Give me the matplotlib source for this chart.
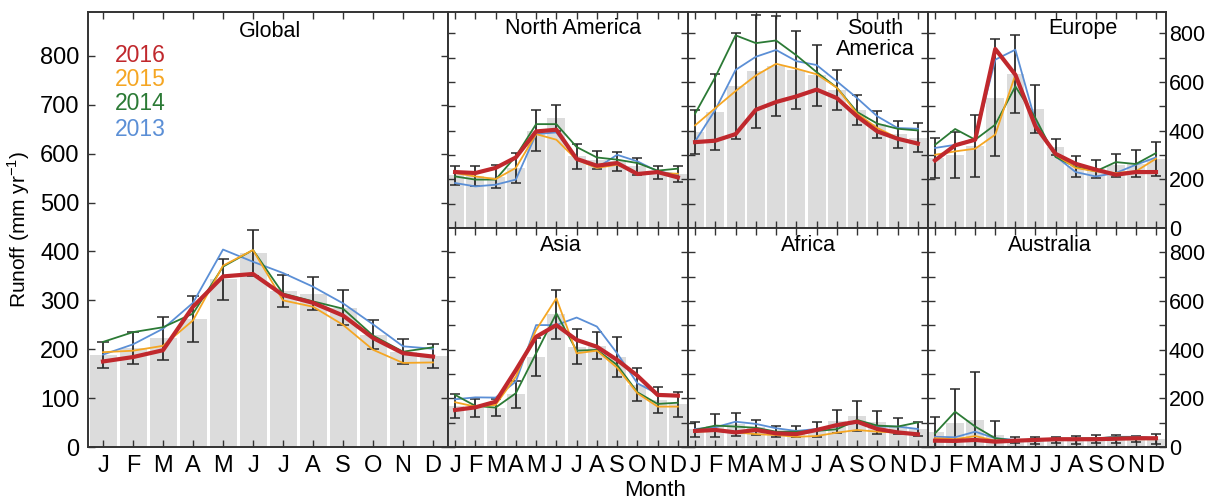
import numpy as np
import matplotlib
matplotlib.use("Agg")
import matplotlib.pyplot as plt

plt.rcParams['font.family'] = ['Liberation Sans', 'DejaVu Sans']
plt.rcParams['mathtext.fontset'] = 'custom'
plt.rcParams['mathtext.rm'] = 'Liberation Sans'

months = ['J', 'F', 'M', 'A', 'M', 'J', 'J', 'A', 'S', 'O', 'N', 'D']
years = ['2016', '2015', '2014', '2013']
year_colors = ['#c0282d', '#f5a623', '#2b7a35', '#5b8fd6']
year_widths = [3.0, 1.3, 1.3, 1.3]

# Global
glob_clim = [188, 202, 222, 262, 343, 397, 319, 314, 285, 230, 195, 186]
glob_err = [27, 33, 44, 47, 42, 48, 33, 33, 36, 29, 25, 24]
glob_2016 = [175, 184, 198, 287, 349, 354, 311, 295, 269, 223, 192, 185]
glob_2015 = [194, 197, 207, 259, 371, 403, 300, 287, 250, 199, 172, 173]
glob_2014 = [215, 235, 245, 273, 369, 403, 314, 298, 283, 228, 195, 204]
glob_2013 = [189, 210, 242, 295, 404, 379, 356, 328, 294, 251, 206, 201]

# North America
na_clim = [216, 212, 211, 247, 400, 452, 295, 280, 274, 253, 227, 222]
na_err = [38, 41, 46, 62, 85, 55, 51, 36, 38, 34, 26, 34]
na_2016 = [230, 226, 247, 290, 397, 404, 284, 256, 267, 222, 230, 208]
na_2015 = [226, 212, 201, 247, 386, 363, 281, 247, 260, 226, 226, 223]
na_2014 = [212, 199, 199, 295, 427, 427, 333, 290, 281, 267, 236, 244]
na_2013 = [185, 171, 178, 199, 386, 393, 284, 247, 301, 274, 233, 219]

# South America
sa_clim = [394, 478, 583, 644, 666, 648, 627, 568, 486, 426, 385, 371]
sa_err = [90, 156, 217, 233, 204, 160, 124, 82, 62, 56, 56, 60]
sa_2016 = [353, 359, 386, 486, 518, 541, 569, 534, 459, 397, 367, 347]
sa_2015 = [422, 493, 563, 627, 675, 655, 632, 577, 470, 411, 370, 342]
sa_2014 = [470, 621, 792, 760, 771, 710, 641, 577, 477, 429, 408, 401]
sa_2013 = [356, 486, 650, 704, 732, 686, 670, 603, 534, 459, 411, 408]

# Europe
eu_clim = [288, 301, 337, 536, 632, 488, 334, 253, 243, 257, 265, 282]
eu_err = [82, 94, 126, 241, 160, 98, 33, 44, 38, 49, 57, 70]
eu_2016 = [278, 340, 363, 736, 630, 418, 305, 264, 240, 219, 230, 230]
eu_2015 = [301, 315, 326, 384, 630, 425, 301, 247, 233, 226, 233, 285]
eu_2014 = [342, 407, 363, 425, 582, 452, 292, 251, 233, 271, 263, 308]
eu_2013 = [329, 342, 367, 692, 733, 438, 295, 230, 212, 226, 260, 290]

# Asia
as_clim = [169, 159, 162, 216, 371, 545, 413, 417, 371, 256, 193, 175]
as_err = [48, 37, 34, 57, 79, 100, 73, 55, 82, 67, 55, 53]
as_2016 = [152, 163, 186, 316, 453, 501, 440, 412, 358, 293, 214, 211]
as_2015 = [184, 166, 173, 289, 481, 611, 385, 396, 326, 221, 166, 166]
as_2014 = [214, 169, 162, 221, 385, 549, 396, 399, 337, 225, 177, 182]
as_2013 = [196, 204, 203, 269, 501, 501, 532, 495, 385, 262, 218, 211]

# Africa
af_clim = [72, 87, 94, 81, 65, 63, 73, 105, 127, 101, 86, 74]
af_err = [32, 47, 47, 32, 23, 23, 31, 49, 60, 48, 32, 27]
af_2016 = [66, 70, 60, 70, 56, 53, 70, 90, 104, 74, 60, 52]
af_2015 = [63, 66, 60, 53, 49, 42, 45, 59, 70, 63, 59, 53]
af_2014 = [70, 88, 84, 79, 63, 63, 66, 73, 111, 88, 84, 101]
af_2013 = [74, 81, 104, 95, 77, 66, 74, 84, 101, 84, 84, 74]

# Australia
au_clim = [60, 97, 111, 49, 29, 26, 29, 29, 32, 33, 32, 33]
au_err = [65, 141, 199, 59, 13, 14, 11, 16, 17, 16, 13, 19]
au_2016 = [26, 25, 29, 22, 26, 29, 32, 32, 32, 34, 36, 36]
au_2015 = [36, 32, 45, 26, 26, 29, 32, 32, 29, 32, 32, 32]
au_2014 = [56, 145, 84, 36, 26, 32, 34, 34, 36, 40, 40, 36]
au_2013 = [42, 40, 63, 36, 29, 29, 32, 34, 34, 42, 42, 36]

W, H = 1207, 500
fig = plt.figure(figsize=(W / 100, H / 100), dpi=100)


def box(x0, y0, x1, y1):
    return [x0 / W, (H - y1) / H, (x1 - x0) / W, (y1 - y0) / H]


def draw_panel(ax, clim, err, series, bar_width, cap):
    x = np.arange(12)
    ax.bar(x, clim, width=bar_width, color='#dcdcdc', zorder=1)
    ax.errorbar(x, clim, yerr=err, fmt='none', ecolor='#2a2a2a',
                elinewidth=1.3, capsize=cap, capthick=1.1, zorder=2)
    # draw older years first so 2016 is on top
    for vals, c, lw in list(zip(series, year_colors, year_widths))[::-1]:
        ax.plot(x, vals, color=c, lw=lw, zorder=3 if lw < 2 else 4,
                solid_joinstyle='round')
    ax.set_xticks(x)
    ax.tick_params(axis='both', which='both', direction='in',
                   top=True, right=True, length=5, width=1.0, colors='#333333')
    for sp in ax.spines.values():
        sp.set_color('#333333')
        sp.set_linewidth(1.4)


# Global panel
axg = fig.add_axes(box(88, 12, 448, 447))
draw_panel(axg, glob_clim, glob_err,
           [glob_2016, glob_2015, glob_2014, glob_2013], 0.9, 4)
axg.set_xlim(-0.5, 11.5)
axg.set_ylim(0, 890)
axg.set_yticks(np.arange(0, 801, 100))
axg.set_xticklabels(months)
axg.tick_params(axis='both', labelsize=17, labelcolor='black', pad=6)
axg.set_ylabel('Runoff (mm yr$^{-1}$)', fontsize=15, labelpad=6)
axg.text(0.505, 0.98, 'Global', transform=axg.transAxes, ha='center',
         va='top', fontsize=15.5)
leg_y = [0.90, 0.845, 0.789, 0.73]
for yr, c, yy in zip(years, year_colors, leg_y):
    axg.text(0.075, yy, yr, color=c, transform=axg.transAxes,
             ha='left', va='center', fontsize=16.5)

regions = [
    ('North America', na_clim, na_err, [na_2016, na_2015, na_2014, na_2013], 0.52),
    ('South\nAmerica', sa_clim, sa_err, [sa_2016, sa_2015, sa_2014, sa_2013], 0.78),
    ('Europe', eu_clim, eu_err, [eu_2016, eu_2015, eu_2014, eu_2013], 0.65),
    ('Asia', as_clim, as_err, [as_2016, as_2015, as_2014, as_2013], 0.47),
    ('Africa', af_clim, af_err, [af_2016, af_2015, af_2014, af_2013], 0.50),
    ('Australia', au_clim, au_err, [au_2016, au_2015, au_2014, au_2013], 0.51),
]
col_x = [(448, 688), (688, 928), (928, 1166)]
row_y = [(12, 228), (228, 447)]

for i, (name, clim, err, series, tx) in enumerate(regions):
    r, c = divmod(i, 3)
    x0, x1 = col_x[c]
    y0, y1 = row_y[r]
    ax = fig.add_axes(box(x0, y0, x1, y1))
    draw_panel(ax, clim, err, series, 0.88, 3.5)
    ax.set_xlim(-0.35, 11.5)
    ax.set_ylim(0, 888 if r == 0 else 900)
    ax.set_yticks(np.arange(0, 801, 100))
    ax.set_yticklabels([str(v) if v % 200 == 0 else '' for v in range(0, 801, 100)])
    ax.tick_params(axis='y', labelleft=False, labelright=(c == 2),
                   labelsize=15.5, labelcolor='black', pad=2)
    if r == 1:
        ax.set_xticklabels(months)
        ax.tick_params(axis='x', labelsize=17, labelcolor='black', pad=6)
    else:
        ax.tick_params(axis='x', labelbottom=False)
    ax.text(tx, 0.97, name, transform=ax.transAxes, ha='center', va='top',
            fontsize=15.5, linespacing=0.95)

fig.text(655 / W, 1 - 491 / H, 'Month', ha='center', va='center', fontsize=16)

fig.savefig('out.png', dpi=100)
